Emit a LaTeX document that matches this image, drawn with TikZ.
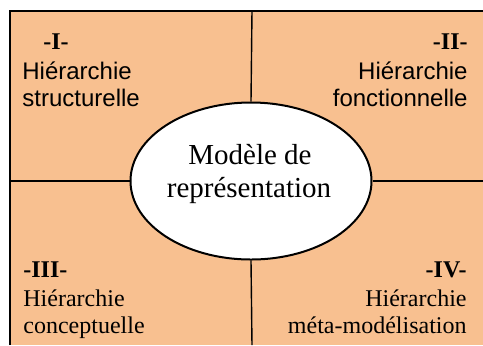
\documentclass[tikz,border=0pt]{standalone}
\usepackage{fontspec}
\setmainfont{Liberation Serif}
\setsansfont{Liberation Sans}
\usetikzlibrary{positioning,shapes.geometric}
\definecolor{peach}{RGB}{248,192,144}

\begin{document}
\begin{tikzpicture}[x=0.5pt,y=-0.5pt,
    numero/.style={font=\bfseries\fontsize{12}{13.8}\selectfont, inner sep=0pt},
    sanslabel/.style={font=\sffamily\fontsize{12}{13.8}\selectfont, inner sep=0pt},
    seriflabel/.style={font=\fontsize{12}{13.8}\selectfont, inner sep=0pt},
    titre/.style={font=\fontsize{14.5}{16.5}\selectfont, inner sep=0pt},
    divider/.style={line width=0.7pt}]

    \useasboundingbox (0,0) rectangle (483,345);

    % Frame corners and the ends of the dividers
    \coordinate (TL) at (10,11);
    \coordinate (BR) at (483,345);
    \coordinate (top) at (252,11);
    \coordinate (bottom) at (252,345);
    \coordinate (left) at (10,181);
    \coordinate (right) at (483,181);

    % Background of the four quadrants
    \fill[peach] (TL) rectangle (BR);
    \draw[line width=0.6pt] (TL |- BR) -- (TL) -- (BR |- TL);

    % Central ellipse
    \node[draw, ellipse, fill=white, line width=1pt,
          minimum width=120.5pt, minimum height=78.5pt] (modele) at (251,181) {};

    % Dividers from the frame to the ellipse
    \draw[divider] (top) -- (modele.north);
    \draw[divider] (bottom) -- (modele.south);
    \draw[divider] (left) -- (modele.west);
    \draw[divider] (right) -- (modele.east);

    % Text in the ellipse
    \node[titre, anchor=base] (t1) at (250,164) {Modèle de};
    \node[titre, anchor=base] (t2) at (249,197) {représentation};

    % Quadrant I
    \node[numero, anchor=base west] (n1) at (43,49) {-I-};
    \node[sanslabel, anchor=base west] (h1) at (22,79) {Hiérarchie};
    \node[sanslabel, anchor=base west] (s1) at (22,106) {structurelle};

    % Quadrant II
    \node[numero, anchor=base east] (n2) at (468,49) {-II-};
    \node[sanslabel, anchor=base east] (h2) at (468,79) {Hiérarchie};
    \node[sanslabel, anchor=base east] (s2) at (468,106) {fonctionnelle};

    % Quadrant III
    \node[numero, anchor=base west] (n3) at (23,277) {-III-};
    \node[seriflabel, anchor=base west] (h3) at (23,306) {Hiérarchie};
    \node[seriflabel, anchor=base west] (s3) at (23,333) {conceptuelle};

    % Quadrant IV
    \node[numero, anchor=base east] (n4) at (467,277) {-IV-};
    \node[seriflabel, anchor=base east] (h4) at (467,306) {Hiérarchie};
    \node[seriflabel, anchor=base east] (s4) at (467,333) {méta-modélisation};

\end{tikzpicture}
\end{document}
